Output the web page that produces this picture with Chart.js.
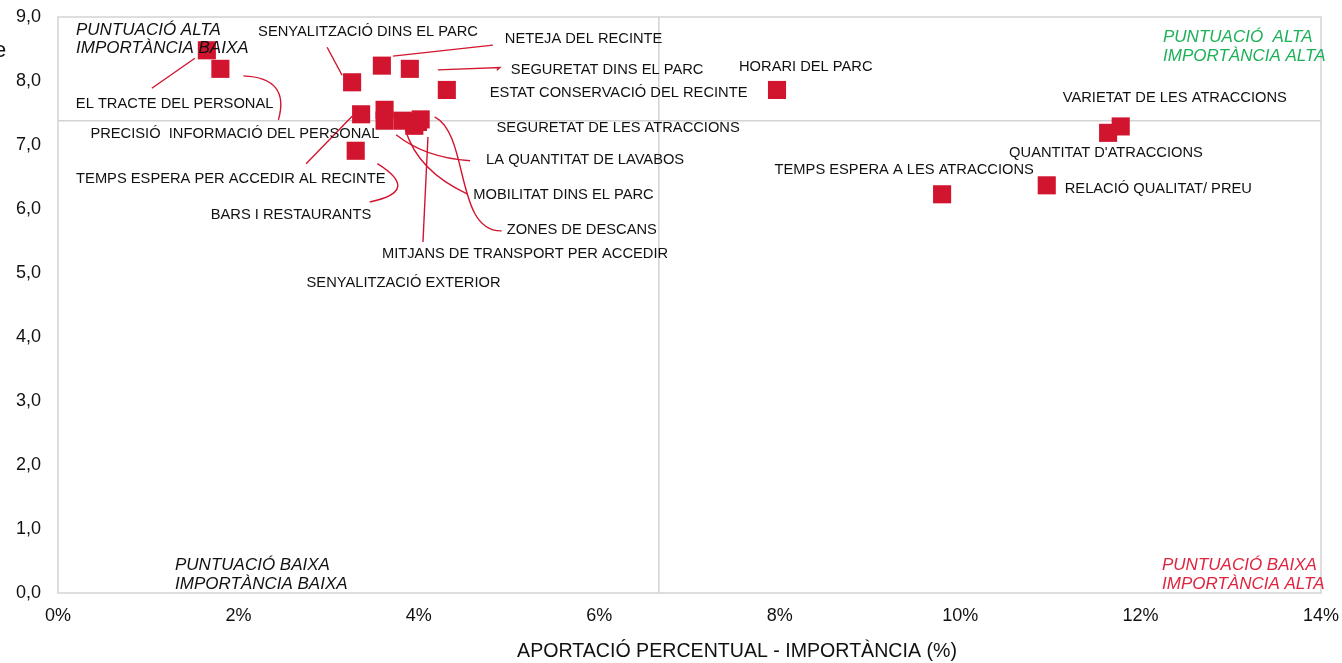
<!DOCTYPE html>
<html><head><meta charset="utf-8">
<script src="https://cdn.jsdelivr.net/npm/chart.js@4/dist/chart.umd.min.js"></script>
<style>html,body{margin:0;padding:0;background:#fff;overflow:hidden}</style>
</head><body>
<canvas id="c" width="1342" height="663"></canvas>
<script>
// ---------- DATA ----------
const categories = [
  "EL TRACTE DEL PERSONAL",
  "PRECISIÓ  INFORMACIÓ DEL PERSONAL",
  "SENYALITZACIÓ DINS EL PARC",
  "NETEJA DEL RECINTE",
  "SEGURETAT DINS EL PARC",
  "ESTAT CONSERVACIÓ DEL RECINTE",
  "TEMPS ESPERA PER ACCEDIR AL RECINTE",
  "BARS I RESTAURANTS",
  "SEGURETAT DE LES ATRACCIONS",
  "SENYALITZACIÓ EXTERIOR",
  "LA QUANTITAT DE LAVABOS",
  "MITJANS DE TRANSPORT PER ACCEDIR",
  "MOBILITAT DINS EL PARC",
  "ZONES DE DESCANS",
  "HORARI DEL PARC",
  "TEMPS ESPERA A LES ATRACCIONS",
  "RELACIÓ QUALITAT/ PREU",
  "QUANTITAT D'ATRACCIONS",
  "VARIETAT DE LES ATRACCIONS"
];
const importance = [1.65, 1.80, 3.26, 3.59, 3.90, 4.31, 3.36, 3.30, 3.62, 3.62, 3.82, 3.99, 3.95, 4.02, 7.97, 9.80, 10.96, 11.64, 11.78];
const score      = [8.48, 8.19, 7.98, 8.24, 8.19, 7.86, 7.48, 6.91, 7.55, 7.38, 7.38, 7.36, 7.30, 7.40, 7.86, 6.23, 6.37, 7.19, 7.29];
const xTickValues = [0, 2, 4, 6, 8, 10, 12, 14];
const yTickValues = [0, 1, 2, 3, 4, 5, 6, 7, 8, 9];
const avgImportance = 6.66;
const avgScore = 7.38;
const xAxisTitle = "APORTACIÓ PERCENTUAL - IMPORTÀNCIA (%)";
const quadrantTL = ["PUNTUACIÓ ALTA", "IMPORTÀNCIA BAIXA"];
const quadrantTR = ["PUNTUACIÓ  ALTA", "IMPORTÀNCIA ALTA"];
const quadrantBL = ["PUNTUACIÓ BAIXA", "IMPORTÀNCIA BAIXA"];
const quadrantBR = ["PUNTUACIÓ BAIXA", "IMPORTÀNCIA ALTA"];

// ---------- LAYOUT (label offsets in px relative to each point) ----------
const labelLayout = [
  {dx:-131, dy:54,   leader:{t:'poly', p:[[-55,38],[-12,8]]}},
  {dx:-130, dy:65,   leader:{t:'quad', p:[[23,7],[70,9],[58,51]]}},
  {dx:-94,  dy:-50,  leader:{t:'poly', p:[[-25,-35],[-10,-7]]}},
  {dx:123,  dy:-26.5,leader:{t:'poly', p:[[11,-9.5],[111,-20.5]]}},
  {dx:101,  dy:1,    leader:{t:'poly', p:[[28,1],[90,-1.3],[87,1.5]]}},
  {dx:43,   dy:3},
  {dx:-285, dy:64.5, leader:{t:'poly', p:[[-9,2],[-55,49.5]]}},
  {dx:-145, dy:64.5, leader:{t:'quad', p:[[21.7,12.8],[66,40.5],[14,51.2]]}},
  {dx:112,  dy:18},
  {dx:-78,  dy:162},
  {dx:83.5, dy:39,   leader:{t:'quad', p:[[-6.5,14],[22.5,37],[67.5,40]]}},
  {dx:-36,  dy:132,  leader:{t:'poly', p:[[10,15],[5,120]]}},
  {dx:59,   dy:69,   leader:{t:'quad', p:[[-9,4],[3.6,45.4],[52.7,68]]}},
  {dx:86,   dy:110.5,leader:{t:'cubic', p:[[14,-2.5],[49,15.5],[34,112.5],[81,111.5]]}},
  {dx:-38,  dy:-23},
  {dx:-167.5,dy:-24},
  {dx:18,   dy:4},
  {dx:-99,  dy:20},
  {dx:-58,  dy:-28.5}
];

const RED = '#D2152F';
const FONT = "'Liberation Sans', Arial, sans-serif";

const overlay = {
  id: 'overlay',
  beforeDatasetsDraw(chart) {
    const {ctx, chartArea: a, scales: {x, y}} = chart;
    ctx.save();
    ctx.strokeStyle = '#D3D3D3';
    ctx.lineWidth = 1.5;
    ctx.strokeRect(a.left, a.top, a.right - a.left, a.bottom - a.top);
    const vx = x.getPixelForValue(avgImportance);
    const hy = y.getPixelForValue(avgScore);
    ctx.beginPath();
    ctx.moveTo(vx, a.top); ctx.lineTo(vx, a.bottom);
    ctx.moveTo(a.left, hy); ctx.lineTo(a.right, hy);
    ctx.stroke();
    ctx.restore();
  },
  afterDatasetsDraw(chart) {
    const {ctx, chartArea: a, scales: {x, y}} = chart;
    ctx.save();
    // leaders
    ctx.strokeStyle = RED;
    ctx.lineWidth = 1.4;
    categories.forEach((name, i) => {
      const L = labelLayout[i];
      if (!L.leader) return;
      const cx = x.getPixelForValue(importance[i]);
      const cy = y.getPixelForValue(score[i]);
      const P = L.leader.p.map(q => [cx + q[0], cy + q[1]]);
      ctx.beginPath();
      ctx.moveTo(P[0][0], P[0][1]);
      if (L.leader.t === 'poly') { for (let k = 1; k < P.length; k++) ctx.lineTo(P[k][0], P[k][1]); }
      else if (L.leader.t === 'quad') ctx.quadraticCurveTo(P[1][0], P[1][1], P[2][0], P[2][1]);
      else ctx.bezierCurveTo(P[1][0], P[1][1], P[2][0], P[2][1], P[3][0], P[3][1]);
      ctx.stroke();
    });
    // labels
    ctx.fillStyle = '#111';
    ctx.font = "14.7px " + FONT;
    ctx.textAlign = 'left';
    ctx.textBaseline = 'middle';
    categories.forEach((name, i) => {
      const L = labelLayout[i];
      const cx = x.getPixelForValue(importance[i]);
      const cy = y.getPixelForValue(score[i]);
      ctx.fillText(name, cx + L.dx, cy + L.dy);
    });
    // quadrant labels
    ctx.font = "italic 17px " + FONT;
    ctx.fillStyle = '#111';
    ctx.fillText(quadrantTL[0], a.left + 18, a.top + 13);
    ctx.fillText(quadrantTL[1], a.left + 18, a.top + 31);
    ctx.fillText(quadrantBL[0], a.left + 117, a.bottom - 28);
    ctx.fillText(quadrantBL[1], a.left + 117, a.bottom - 9);
    ctx.fillStyle = '#1DB158';
    ctx.fillText(quadrantTR[0], a.right - 158, a.top + 20);
    ctx.fillText(quadrantTR[1], a.right - 158, a.top + 39);
    ctx.fillStyle = '#E0233F';
    ctx.fillText(quadrantBR[0], a.right - 159, a.bottom - 28);
    ctx.fillText(quadrantBR[1], a.right - 159, a.bottom - 9);
    // x axis title
    ctx.fillStyle = '#111';
    ctx.font = "19.6px " + FONT;
    ctx.textAlign = 'center';
    ctx.fillText(xAxisTitle, 737, 652);
    // clipped y axis title fragment
    ctx.textAlign = 'left';
    ctx.font = "22px " + FONT;
    ctx.fillText("e", -6, 51);
    ctx.restore();
  }
};

const noPad = s => { s.paddingTop = 0; s.paddingBottom = 0; s.paddingLeft = 0; s.paddingRight = 0; };

new Chart(document.getElementById('c'), {
  type: 'scatter',
  data: {
    datasets: [{
      data: importance.map((v, i) => ({x: v, y: score[i]})),
      pointStyle: 'rect',
      pointRadius: 12.8,
      pointHoverRadius: 12.8,
      backgroundColor: RED,
      borderWidth: 0,
      clip: false
    }]
  },
  options: {
    responsive: false,
    animation: false,
    events: [],
    layout: {autoPadding: false, padding: {left: 0, right: 21, top: 17, bottom: 0}},
    plugins: {legend: {display: false}, tooltip: {enabled: false}},
    scales: {
      x: {
        type: 'linear', min: 0, max: 14,
        grid: {display: false, drawTicks: false},
        border: {display: false},
        afterFit: s => { s.height = 70; noPad(s); },
        afterBuildTicks: s => { s.ticks = xTickValues.map(v => ({value: v})); },
        ticks: {padding: 12, color: '#111', font: {family: FONT, size: 18}, callback: v => v + '%'}
      },
      y: {
        type: 'linear', min: 0, max: 9,
        grid: {display: false, drawTicks: false},
        border: {display: false},
        afterFit: s => { s.width = 58; noPad(s); },
        afterBuildTicks: s => { s.ticks = yTickValues.map(v => ({value: v})); },
        ticks: {padding: 17, color: '#111', font: {family: FONT, size: 18}, callback: v => v.toFixed(1).replace('.', ',')}
      }
    }
  },
  plugins: [overlay]
});
</script>
</body></html>
